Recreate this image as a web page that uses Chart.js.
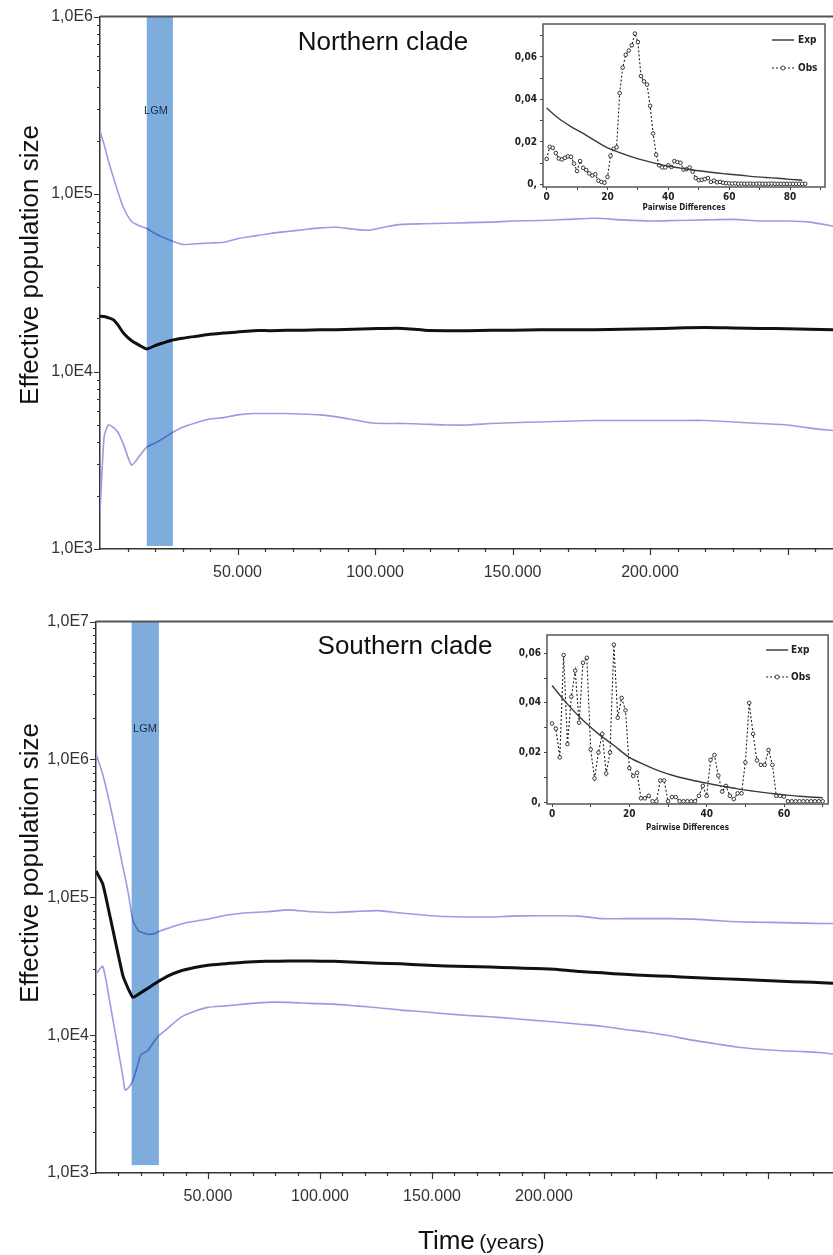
<!DOCTYPE html>
<html><head><meta charset="utf-8">
<script src="https://cdn.jsdelivr.net/npm/chart.js@4.4.1/dist/chart.umd.min.js"></script>
<style>
html,body{margin:0;padding:0;background:#fff;}
#wrap{position:relative;width:833px;height:1255px;overflow:hidden;background:#fff;font-family:'Liberation Sans',Arial,sans-serif;color:#111;}
canvas{position:absolute;}
.t{position:absolute;white-space:nowrap;line-height:1;}
</style></head><body>
<div id="wrap">
<canvas id="cN" width="833" height="600" style="left:0;top:0"></canvas>
<canvas id="cS" width="833" height="650" style="left:0;top:605px"></canvas>
<canvas id="iN" width="328" height="200" style="left:505px;top:15px"></canvas>
<canvas id="iS" width="328" height="210" style="left:505px;top:625px"></canvas>
<div class="t" style="left:383px;top:41px;font-size:26px;transform:translate(-50%,-50%)">Northern clade</div>
<div class="t" style="left:405px;top:645px;font-size:26px;transform:translate(-50%,-50%)">Southern clade</div>
<div class="t" style="left:29px;top:265px;font-size:26px;transform:translate(-50%,-50%) rotate(-90deg)">Effective population size</div>
<div class="t" style="left:29px;top:863px;font-size:26px;transform:translate(-50%,-50%) rotate(-90deg)">Effective population size</div>
<div class="t" style="left:156px;top:110px;font-size:11px;color:#1a2a40;transform:translate(-50%,-50%)">LGM</div>
<div class="t" style="left:145px;top:728px;font-size:11px;color:#1a2a40;transform:translate(-50%,-50%)">LGM</div>
<div class="t" style="left:418px;top:1227px;"><span style="font-size:26px">Time</span> <span style="font-size:21px">(years)</span></div>
</div>
<script>
// ---------- Northern clade (Bayesian skyline) ----------
const nTime   = [0,1500,3000,4800,6500,8500,11500,14500,17000,20000,23000,26000,30000,35000,40000,45000,50000,56000,62000,68000,74000,80000,86000,92000,98000,104000,110000,118000,126000,134000,142000,150000,160000,170000,180000,190000,200000,210000,220000,230000,240000,250000,258000,266500];
const nMedian = [20500,20400,20100,19600,18300,16500,14900,14000,13400,14000,14500,15000,15400,15800,16200,16500,16700,17000,17000,17100,17100,17200,17200,17300,17400,17500,17500,17100,17000,17000,17100,17100,17200,17200,17200,17300,17400,17600,17700,17600,17500,17400,17300,17200];
const nUpper  = [226000,190000,155000,125000,103000,84000,70000,66000,64000,60000,57000,54500,52000,52500,53000,53500,56000,58000,60000,61500,63000,64500,65000,63500,62500,65500,67500,68000,68500,69000,69500,70500,71000,72000,73000,71500,70500,71000,71500,72000,70500,70500,69500,66000];
const nLower  = [1600,4300,5000,4850,4550,3900,2970,3370,3750,3950,4200,4500,4850,5150,5400,5500,5700,5800,5800,5800,5750,5700,5550,5350,5150,5100,5100,5050,5000,5000,5100,5150,5200,5250,5300,5300,5300,5300,5300,5200,5100,5000,4800,4650];
// ---------- Southern clade (Bayesian skyline) ----------
const sTime   = [0,3000,6000,9000,12000,13000,14500,16500,19000,20000,23000,26000,28000,32000,38000,44000,50000,58000,66000,76000,86000,96000,106000,116000,126000,136000,146000,156000,166000,176000,186000,196000,206000,216000,226000,236000,246000,256000,266000,276000,286000,296000,306000,316000,324000,329000];
const sMedian = [155000,125000,76000,45000,27000,24500,21500,18800,19800,20300,21800,23500,24600,26800,29300,31000,32200,33000,33800,34300,34500,34500,34300,33800,33300,32900,32300,31800,31500,31200,30800,30400,29900,29000,28300,27600,27100,26700,26200,25800,25400,25000,24600,24300,24000,23800];
const sUpper  = [1100000,780000,490000,290000,166000,140000,105000,68000,57000,56000,54000,54500,56500,59500,64000,67000,69500,74000,77000,78500,81000,78500,77500,79000,80000,77000,74500,72500,72000,72000,73000,73500,73500,73000,70000,70000,70000,70000,69500,68000,66500,66000,65500,65000,64500,64500];
const sLower  = [27800,31500,18000,9500,5000,4000,4150,4700,6400,7200,7700,9000,9900,11200,13500,14900,15900,16300,16800,17300,17300,17000,16800,16300,15800,15200,14800,14300,13900,13600,13200,12800,12400,12000,11600,11000,10500,9900,9200,8700,8200,7900,7700,7600,7450,7300];
// LGM bands (years)
const nLGM = [17000, 26500];
const sLGM = [15900, 28100];
// axis ticks
const nYTicks  = [1e3,1e4,1e5,1e6];
const nYLabels = ['1,0E3','1,0E4','1,0E5','1,0E6'];
const sYTicks  = [1e3,1e4,1e5,1e6,1e7];
const sYLabels = ['1,0E3','1,0E4','1,0E5','1,0E6','1,0E7'];
const timeTicks  = [50000,100000,150000,200000];
const timeLabels = ['50.000','100.000','150.000','200.000'];
// ---------- Mismatch distributions (insets) ----------
const nExpX = [0,4,8,12,16,20,24,28,32,36,40,44,48,52,56,60,64,68,72,76,80,84];
const nExp  = [0.0360,0.0310,0.0272,0.0240,0.0205,0.0172,0.0150,0.0130,0.0113,0.0098,0.0086,0.0077,0.0068,0.0061,0.0054,0.0048,0.0043,0.0037,0.0033,0.0029,0.0024,0.0020];
const nObs  = [0.0120,0.0177,0.0172,0.0148,0.0122,0.0118,0.0125,0.0132,0.0130,0.0098,0.0063,0.0110,0.0078,0.0068,0.0052,0.0042,0.0048,0.0018,0.0012,0.0008,0.0035,0.0135,0.0168,0.0175,0.0430,0.0550,0.0610,0.0630,0.0655,0.0710,0.0670,0.0510,0.0485,0.0470,0.0370,0.0240,0.0140,0.0090,0.0080,0.0080,0.0090,0.0082,0.0110,0.0105,0.0102,0.0070,0.0072,0.0080,0.0060,0.0030,0.0020,0.0022,0.0025,0.0030,0.0012,0.0018,0.0010,0.0012,0.0008,0.0006,0.0005,0.0004,0.0005,0.0003,0.0004,0.0003,0.0003,0.0004,0.0003,0.0003,0.0004,0.0003,0.0003,0.0003,0.0004,0.0003,0.0003,0.0003,0.0003,0.0003,0.0003,0.0003,0.0003,0.0003,0.0003,0.0003];
const sExpX = [0,4,8,12,16,20,24,28,32,36,40,44,48,52,56,60,64,68,70];
const sExp  = [0.0470,0.0395,0.0330,0.0275,0.0228,0.0180,0.0150,0.0124,0.0104,0.0089,0.0076,0.0064,0.0053,0.0044,0.0036,0.0029,0.0023,0.0019,0.0017];
const sObs  = [0.0317,0.0296,0.0180,0.0593,0.0234,0.0425,0.0530,0.0320,0.0562,0.0582,0.0212,0.0095,0.0200,0.0275,0.0115,0.0200,0.0635,0.0340,0.0420,0.0370,0.0137,0.0105,0.0118,0.0015,0.0015,0.0025,0.0003,0.0003,0.0087,0.0087,0.0003,0.0020,0.0020,0.0003,0.0003,0.0003,0.0003,0.0003,0.0025,0.0065,0.0025,0.0170,0.0190,0.0107,0.0042,0.0065,0.0025,0.0012,0.0035,0.0035,0.0160,0.0400,0.0275,0.0168,0.0150,0.0150,0.0210,0.0150,0.0025,0.0025,0.0022,0.0003,0.0003,0.0003,0.0003,0.0003,0.0003,0.0003,0.0003,0.0003,0.0003];
const insetYTicks  = [0,0.01,0.02,0.03,0.04,0.05,0.06,0.07];
const insetYLabels = ['0,','','0,02','','0,04','','0,06',''];
const insetXTicks  = [0,10,20,30,40,50,60,70,80,90];
const insetXLabels = ['0','','20','','40','','60','','80',''];

Chart.defaults.font.family = "'Liberation Sans', Arial, sans-serif";

const bandPlugin = {
  id: 'band',
  afterDatasetsDraw(chart, args, o) {
    if (!o || o.from === undefined) return;
    const {ctx, scales:{x, y}} = chart;
    const x1 = x.getPixelForValue(o.from), x2 = x.getPixelForValue(o.to);
    const y1 = y.getPixelForValue(o.yTop), y2 = y.getPixelForValue(o.yBottom);
    ctx.save();
    ctx.globalCompositeOperation = 'multiply';
    ctx.fillStyle = o.color;
    ctx.fillRect(x1, y1, x2 - x1, y2 - y1);
    ctx.restore();
  }
};

const axisDeco = {
  id: 'axisDeco',
  afterDraw(chart, args, o) {
    if (!o || !o.on) return;
    const {ctx, chartArea: a, scales:{x, y}} = chart;
    ctx.save();
    ctx.strokeStyle = '#333'; ctx.lineWidth = 1.2;
    ctx.beginPath();
    for (let e = o.eMin; e <= o.eMax; e++) {
      for (let m = 1; m <= 9; m++) {
        const v = m * Math.pow(10, e);
        if (v > y.max * 1.0001) continue;
        const py = Math.round(y.getPixelForValue(v)) + 0.5;
        const len = m === 1 ? 6 : 3;
        ctx.moveTo(a.left - len, py); ctx.lineTo(a.left, py);
      }
    }
    for (let t = 10000; t <= x.max; t += 10000) {
      const px = Math.round(x.getPixelForValue(t)) + 0.5;
      const len = (t % 50000 === 0) ? 6 : 3;
      ctx.moveTo(px, a.bottom); ctx.lineTo(px, a.bottom + len);
    }
    ctx.stroke();
    ctx.strokeStyle = '#555'; ctx.lineWidth = 2;
    ctx.beginPath(); ctx.moveTo(a.left, a.top); ctx.lineTo(a.right, a.top); ctx.stroke();
    ctx.restore();
  }
};

function ds(xs, ys, color, w) {
  return { data: xs.map((t, i) => ({x: t, y: ys[i]})), borderColor: color, borderWidth: w,
           pointRadius: 0, tension: 0.2, fill: false };
}

function mainChart(id, c) {
  return new Chart(document.getElementById(id), {
    type: 'line',
    data: { datasets: [ ds(c.time, c.upper, '#9b9be3', 1.6), ds(c.time, c.lower, '#9b9be3', 1.6), ds(c.time, c.median, '#111', 3) ] },
    options: {
      responsive: false, animation: false, events: [],
      layout: { padding: { top: c.padTop, left: 0, right: 0, bottom: 0 } },
      plugins: { legend: {display: false}, tooltip: {enabled: false},
        band: { from: c.lgm[0], to: c.lgm[1], yTop: c.yMax, yBottom: c.bandBottom, color: '#7eaddd' },
        axisDeco: { on: true, eMin: 3, eMax: Math.round(Math.log10(c.yMax)) } },
      scales: {
        x: { type: 'linear', min: 0, max: c.xMax,
             afterBuildTicks: s => { s.ticks = timeTicks.map(v => ({value: v})); },
             ticks: { callback: v => timeLabels[timeTicks.indexOf(v)], font: {size: 16}, color: '#333', padding: 14, maxRotation: 0, autoSkip: false },
             grid: { display: false, drawTicks: false }, border: { display: true, color: '#333', width: 1.5 },
             afterFit: s => { s.height = c.xH; } },
        y: { type: 'logarithmic', min: 1000, max: c.yMax,
             afterBuildTicks: s => { s.ticks = c.yTicks.map(v => ({value: v})); },
             ticks: { callback: v => c.yLabels[c.yTicks.indexOf(v)], font: {size: 16}, color: '#333', padding: 7, autoSkip: false },
             grid: { display: false, drawTicks: false }, border: { display: true, color: '#333', width: 1.5 },
             afterFit: s => { s.width = c.yW; } }
      }
    },
    plugins: [bandPlugin, axisDeco]
  });
}

mainChart('cN', { time: nTime, median: nMedian, upper: nUpper, lower: nLower, lgm: nLGM,
  yMax: 1e6, bandBottom: 1040, xMax: 266500, yTicks: nYTicks, yLabels: nYLabels, padTop: 12, xH: 51, yW: 100 });
mainChart('cS', { time: sTime, median: sMedian, upper: sUpper, lower: sLower, lgm: sLGM,
  yMax: 1e7, bandBottom: 1140, xMax: 329000, yTicks: sYTicks, yLabels: sYLabels, padTop: 12, xH: 82, yW: 96 });

const insetFamily = "'Liberation Sans Narrow', 'DejaVu Sans Condensed', Arial, sans-serif";
const insetFont = { family: insetFamily, weight: 'bold', size: 10 };

const insetDeco = {
  id: 'insetDeco',
  afterDraw(chart, args, o) {
    if (!o || !o.on) return;
    const {ctx, chartArea: a} = chart;
    ctx.save();
    ctx.strokeStyle = '#555'; ctx.lineWidth = 1.5;
    ctx.strokeRect(a.left, a.top, a.right - a.left, a.bottom - a.top);
    // legend
    ctx.font = "bold 10px " + insetFamily;
    ctx.fillStyle = '#222'; ctx.textBaseline = 'middle'; ctx.textAlign = 'left';
    const lx1 = a.right - o.lx1, lx2 = a.right - o.lx2, tx = a.right - o.tx;
    ctx.strokeStyle = '#333'; ctx.lineWidth = 1.4;
    ctx.beginPath(); ctx.moveTo(lx1, a.top + o.y1); ctx.lineTo(lx2, a.top + o.y1); ctx.stroke();
    ctx.fillText('Exp', tx, a.top + o.y1);
    ctx.lineWidth = 1.1; ctx.setLineDash([2, 2]);
    ctx.beginPath(); ctx.moveTo(lx1, a.top + o.y2); ctx.lineTo(lx2, a.top + o.y2); ctx.stroke();
    ctx.setLineDash([]);
    ctx.fillStyle = '#fff'; ctx.lineWidth = 0.9;
    ctx.beginPath(); ctx.arc((lx1 + lx2) / 2, a.top + o.y2, 2, 0, Math.PI * 2); ctx.fill(); ctx.stroke();
    ctx.fillStyle = '#222';
    ctx.fillText('Obs', tx, a.top + o.y2);
    ctx.restore();
  }
};

function insetChart(id, c) {
  return new Chart(document.getElementById(id), {
    type: 'line',
    data: { datasets: [
      { data: c.expX.map((x, i) => ({x, y: c.exp[i]})), borderColor: '#3a3a3a', borderWidth: 1.4, pointRadius: 0, tension: 0.35 },
      { data: c.obs.map((y, i) => ({x: i, y})), borderColor: '#222', borderWidth: 1.1, borderDash: [2, 2], pointRadius: 1.8,
        pointBackgroundColor: '#fff', pointBorderColor: '#222', pointBorderWidth: 0.9, tension: 0 }
    ] },
    options: {
      responsive: false, animation: false, events: [],
      layout: { padding: { top: c.padTop, right: c.padRight, left: 0, bottom: 0 } },
      plugins: { legend: {display: false}, tooltip: {enabled: false}, insetDeco: c.legend },
      scales: {
        x: { type: 'linear', min: c.xMin, max: c.xMax,
             afterBuildTicks: s => { s.ticks = insetXTicks.filter(v => v >= c.xMin && v <= c.xMax).map(v => ({value: v})); },
             ticks: { callback: v => insetXLabels[insetXTicks.indexOf(v)], font: insetFont, color: '#222', padding: 1, maxRotation: 0, autoSkip: false },
             grid: { drawOnChartArea: false, drawTicks: true, tickLength: 3, color: '#444', lineWidth: 1 },
             border: { display: false },
             title: { display: true, text: 'Pairwise Differences', font: {family: insetFamily, weight: 'bold', size: 8}, color: '#222', padding: {top: 0, bottom: c.titlePad} },
             afterFit: s => { s.height = c.xH; } },
        y: { type: 'linear', min: c.yMin, max: c.yMax,
             afterBuildTicks: s => { s.ticks = insetYTicks.filter(v => v >= c.yMin && v <= c.yMax).map(v => ({value: v})); },
             ticks: { callback: v => insetYLabels[insetYTicks.indexOf(v)], font: insetFont, color: '#222', padding: 3, autoSkip: false },
             grid: { drawOnChartArea: false, drawTicks: true, tickLength: 3, color: '#444', lineWidth: 1 },
             border: { display: false },
             afterFit: s => { s.width = c.yW; } }
      }
    },
    plugins: [insetDeco]
  });
}

insetChart('iN', { expX: nExpX, exp: nExp, obs: nObs, xMin: -1.2, xMax: 91.5, yMin: -0.0012, yMax: 0.0755,
  padTop: 4, padRight: 8, xH: 28, yW: 38, titlePad: 2,
  legend: { on: true, lx1: 53, lx2: 31, tx: 27, y1: 16, y2: 44 } });
insetChart('iS', { expX: sExpX, exp: sExp, obs: sObs, xMin: -1.3, xMax: 71.4, yMin: -0.0008, yMax: 0.0674,
  padTop: 10, padRight: 1, xH: 31, yW: 42, titlePad: 2,
  legend: { on: true, lx1: 62, lx2: 40, tx: 37, y1: 15, y2: 42 } });
</script>
</body></html>
